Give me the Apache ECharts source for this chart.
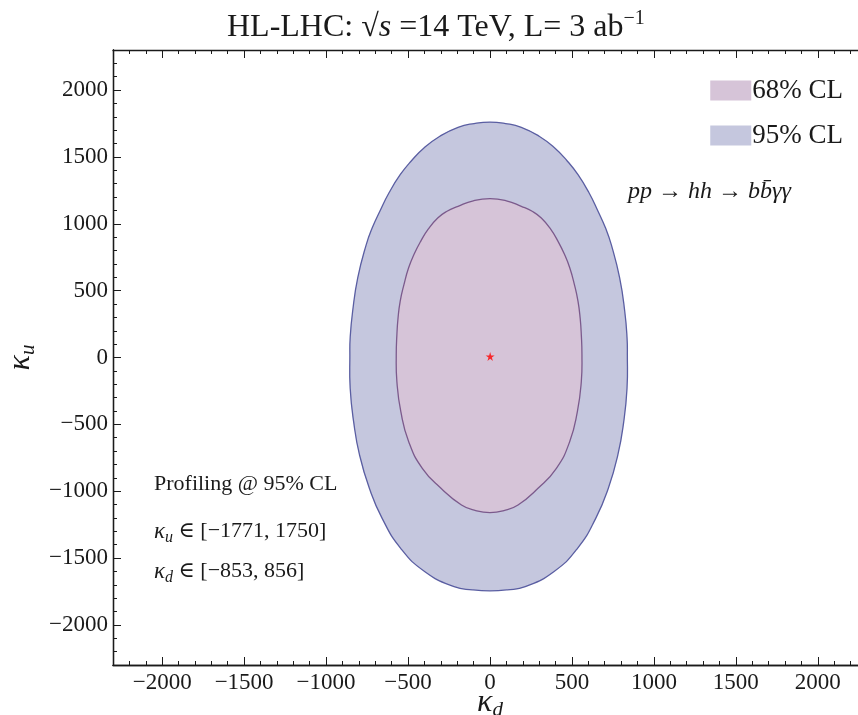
<!DOCTYPE html>
<html>
<head>
<meta charset="utf-8">
<title>kappa_u vs kappa_d</title>
<script src="https://cdn.jsdelivr.net/npm/echarts@6/dist/echarts.min.js"></script>
<style>
html, body { margin: 0; padding: 0; background: #fff; }
#main { width: 858px; height: 715px; }
</style>
</head>
<body>
<div id="main"></div>
<script>
// tick labels
var kdTicks = [-2000, -1500, -1000, -500, 0, 500, 1000, 1500, 2000];
var kuTicks = [-2000, -1500, -1000, -500, 0, 500, 1000, 1500, 2000];

// contours, [kappa_d, kappa_u]
var contour95 = [
    [0, 1761], [95, 1750], [191, 1722], [300, 1655], [395, 1567], [470, 1472],
    [537, 1367], [604, 1232], [659, 1094], [705, 968], [740, 844], [791, 595],
    [822, 346], [836, 150], [838, 19], [836, -230], [816, -480], [780, -729],
    [722, -978], [645, -1203], [534, -1427], [389, -1602], [215, -1714],
    [105, -1738], [0, -1746],
    [-107, -1738], [-219, -1714], [-397, -1602], [-545, -1427], [-658, -1203],
    [-736, -978], [-796, -729], [-832, -480], [-853, -230], [-855, 19],
    [-853, 150], [-838, 346], [-807, 595], [-755, 844], [-719, 968],
    [-672, 1094], [-616, 1232], [-548, 1367], [-479, 1472], [-403, 1567],
    [-306, 1655], [-195, 1722], [-97, 1750]
];
var contour68 = [
    [0, 1188], [100, 1172], [191, 1131], [260, 1092], [313, 1043], [370, 960],
    [415, 869], [455, 770], [487, 669], [515, 545], [537, 420], [550, 295],
    [557, 171], [561, 19], [557, -181], [533, -405], [486, -630], [405, -829],
    [293, -978], [171, -1103], [85, -1145], [0, -1160],
    [-87, -1145], [-174, -1103], [-299, -978], [-413, -829], [-496, -630],
    [-544, -405], [-568, -181], [-572, 19], [-568, 171], [-561, 295],
    [-548, 420], [-525, 545], [-497, 669], [-464, 770], [-423, 869],
    [-377, 960], [-319, 1043], [-265, 1092], [-195, 1131], [-102, 1172]
];
var bestFit = [[1, 8]];

var fontFam = '"Liberation Serif", "DejaVu Serif", serif';
var ink = '#1a1a1a';

var minorTicks = [];
for (var v = -2300; v <= 2300; v += 100) minorTicks.push(v);

function minus(v) { return String(v).replace('-', '\u2212'); }

function contourSeries(name, pts, fill, stroke, z) {
    return {
        name: name,
        type: 'custom',
        z: z,
        xAxisIndex: 0,
        yAxisIndex: 0,
        data: pts,
        itemStyle: { color: fill },
        renderItem: function (params, api) {
            if (params.dataIndex !== 0) return null;
            return {
                type: 'polygon',
                shape: { points: pts.map(function (p) { return api.coord(p); }), smooth: 0.5 },
                style: { fill: fill, stroke: stroke, lineWidth: 1.3 }
            };
        }
    };
}

function makeAxis(pos, ticks, len, withLabels) {
    return {
        type: 'value', position: pos, min: -2300, max: 2300,
        axisLine: { show: withLabels !== null, onZero: false, lineStyle: { color: ink, width: 1.3 } },
        axisTick: { show: true, inside: true, length: len, customValues: ticks, lineStyle: { color: ink, width: 1 } },
        axisLabel: withLabels ? {
            show: true, customValues: ticks, margin: 6, color: ink,
            fontFamily: fontFam, fontSize: 23, formatter: minus
        } : { show: false },
        splitLine: { show: false }
    };
}

var nameRich = {
    k: { fontFamily: fontFam, fontStyle: 'italic', fontSize: 32, color: ink, lineHeight: 36, verticalAlign: 'middle' },
    s: { fontFamily: fontFam, fontStyle: 'italic', fontSize: 21, color: ink, lineHeight: 36, verticalAlign: 'bottom' }
};

var xAxes = [makeAxis('bottom', kdTicks, 8, true), makeAxis('bottom', minorTicks, 4, false),
             makeAxis('top', kdTicks, 8, false), makeAxis('top', minorTicks, 4, null)];
xAxes[0].name = '{k|\u03ba}{s|d}';
xAxes[0].nameLocation = 'middle';
xAxes[0].nameGap = 20;
xAxes[0].nameMoveOverlap = false;
xAxes[0].nameTextStyle = { rich: nameRich };

var yAxes = [makeAxis('left', kuTicks, 8, true), makeAxis('left', minorTicks, 4, false)];
yAxes[0].axisLabel.margin = 5;
yAxes[0].name = '{k|\u03ba}{s|u}';
yAxes[0].nameLocation = 'middle';
yAxes[0].nameGap = 74;
yAxes[0].nameMoveOverlap = false;
yAxes[0].nameRotate = 90;
yAxes[0].nameTextStyle = { rich: nameRich };

var subRich = {
    k: { font: 'italic 23px ' + fontFam, fill: ink, lineHeight: 28, verticalAlign: 'middle' },
    s: { font: 'italic 16px ' + fontFam, fill: ink, lineHeight: 28, verticalAlign: 'bottom' },
    n: { font: '22px ' + fontFam, fill: ink, lineHeight: 28, verticalAlign: 'middle' }
};

var myChart = echarts.init(document.getElementById('main'));

var option = {
    backgroundColor: '#fff',
    animation: false,
    title: {
        left: 222, top: 4,
        text: '{n|HL-LHC: }{n|\u221a}{i|s}{n| =14 TeV, L= 3 ab}{p|\u22121}',
        textStyle: {
            fontWeight: 'normal',
            rich: {
                n: { fontFamily: fontFam, fontWeight: 'normal', fontSize: 32, color: ink, lineHeight: 38, verticalAlign: 'middle' },
                i: { fontFamily: fontFam, fontWeight: 'normal', fontStyle: 'italic', fontSize: 32, color: ink, lineHeight: 38, verticalAlign: 'middle' },
                p: { fontFamily: fontFam, fontWeight: 'normal', fontSize: 20, color: ink, lineHeight: 38, verticalAlign: 'top' }
            }
        }
    },
    grid: { left: 113, top: 50, width: 754, height: 615, outerBoundsMode: 'none', containLabel: false },
    legend: {
        orient: 'vertical', right: 10, top: 72,
        itemWidth: 41, itemHeight: 20, itemGap: 18,
        selectedMode: false,
        data: [{ name: '68% CL', icon: 'rect' }, { name: '95% CL', icon: 'rect' }],
        itemStyle: { borderWidth: 0 },
        textStyle: { fontFamily: fontFam, fontSize: 27, color: ink, lineHeight: 20, padding: [0, 0, 0, -4] }
    },
    xAxis: xAxes,
    yAxis: yAxes,
    graphic: [
        { type: 'text', left: 628, top: 180, style: { text: 'pp \u2192 hh \u2192 bb\u0304\u03b3\u03b3', font: 'italic 24px ' + fontFam, fill: ink } },
        { type: 'text', left: 154, top: 473, style: { text: 'Profiling @ 95% CL', font: '22px ' + fontFam, fill: ink } },
        { type: 'text', left: 154, top: 520, style: { text: '{k|\u03ba}{s|u}{n| \u2208 [\u22121771, 1750]}', rich: subRich } },
        { type: 'text', left: 154, top: 560, style: { text: '{k|\u03ba}{s|d}{n| \u2208 [\u2212853, 856]}', rich: subRich } }
    ],
    series: [
        contourSeries('95% CL', contour95, '#c5c7de', '#5a5ea2', 2),
        contourSeries('68% CL', contour68, '#d6c4d8', '#7b5a8c', 3),
        {
            name: 'best fit',
            type: 'scatter',
            z: 5,
            data: bestFit,
            symbol: 'path://M50,0 L61,35 L98,35 L68,57 L79,91 L50,70 L21,91 L32,57 L2,35 L39,35 Z',
            symbolSize: 9,
            itemStyle: { color: '#ff0000' }
        }
    ]
};

myChart.setOption(option);
</script>
</body>
</html>
